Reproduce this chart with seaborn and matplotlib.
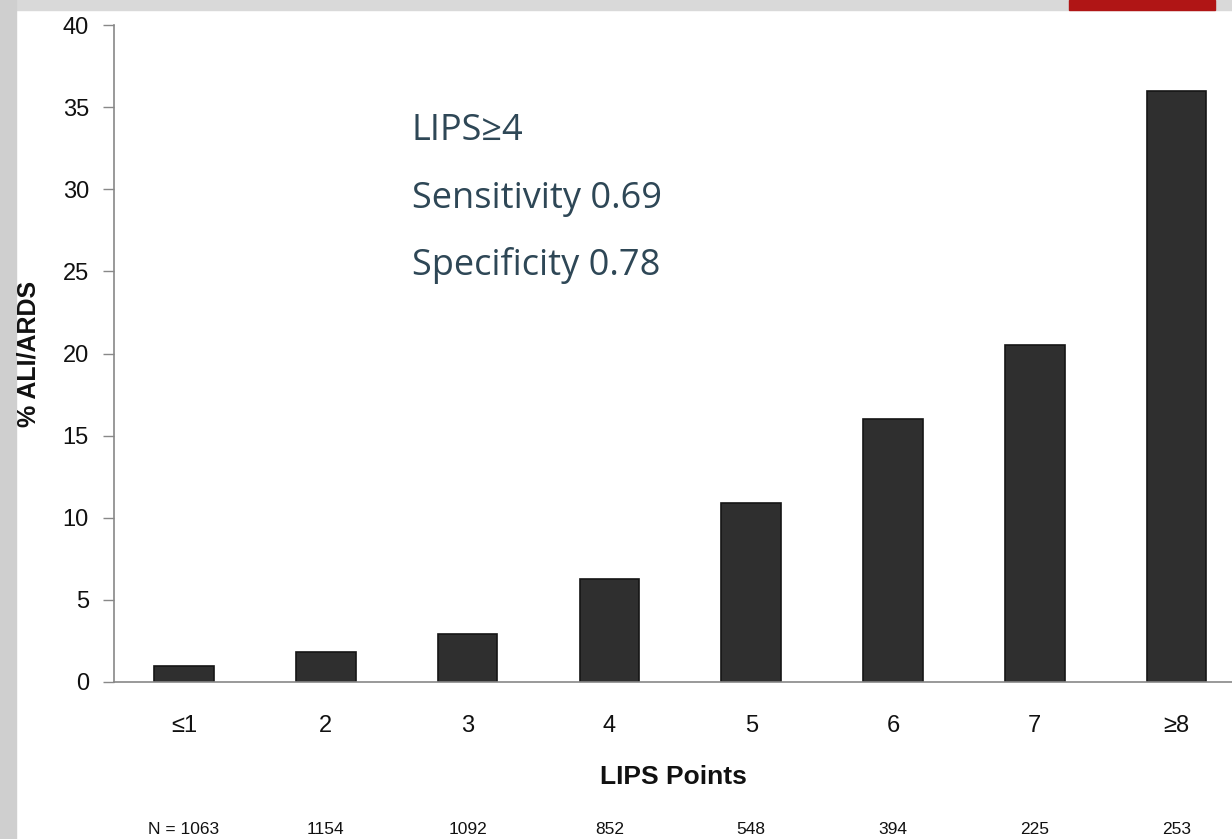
import seaborn as sns
import matplotlib.pyplot as plt
import matplotlib.transforms as mtransforms
from matplotlib.patches import Rectangle
import pandas as pd

# LIPS score categories and observed ALI/ARDS rate (%)
lips_points = ['≤1', '2', '3', '4', '5', '6', '7', '≥8']
pct_ali_ards = [1.0, 1.8, 2.9, 6.3, 10.9, 16.0, 20.5, 36.0]
n_patients = ['N = 1063', '1154', '1092', '852', '548', '394', '225', '253']
y_ticks = [0, 5, 10, 15, 20, 25, 30, 35, 40]


def lips_chart():
    """Bar chart of % ALI/ARDS by LIPS points."""
    df = pd.DataFrame({'points': lips_points, 'pct': pct_ali_ards})

    sns.set_style('white')
    plt.rcParams['font.family'] = ['Liberation Sans', 'DejaVu Sans']

    fig = plt.figure(figsize=(12.32, 8.39), dpi=100)
    fig.patch.set_facecolor('white')

    # grey slide frame and red tab at the top
    fig.add_artist(Rectangle((0, 1 - 10 / 839), 1, 10 / 839, transform=fig.transFigure,
                             color='#d9d9d9', zorder=0))
    fig.add_artist(Rectangle((0, 0), 16 / 1232, 1, transform=fig.transFigure,
                             color='#cfcfcf', zorder=0))
    fig.add_artist(Rectangle((1069 / 1232, 1 - 10 / 839), 146 / 1232, 10 / 839,
                             transform=fig.transFigure, color='#b01515', zorder=1))

    ax = fig.add_axes([114 / 1232, 1 - 682 / 839, 1 - 114 / 1232, (682 - 25) / 839])
    ax.set_facecolor('none')

    sns.barplot(data=df, x='points', y='pct', order=lips_points, color='#2f2f2f',
                edgecolor='#151515', linewidth=1.2, width=0.42, saturation=1, ax=ax)

    ax.set_xlim(-0.493, 7.39)
    ax.set_ylim(0, 40)
    ax.set_yticks(y_ticks)
    ax.tick_params(axis='y', length=8, width=1, color='#888888', labelsize=17,
                   pad=10, left=True, labelcolor='#111111')
    ax.tick_params(axis='x', length=0, labelsize=17, pad=24, labelcolor='#111111')

    for side in ['top', 'right']:
        ax.spines[side].set_visible(False)
    for side in ['left', 'bottom']:
        ax.spines[side].set_color('#888888')
        ax.spines[side].set_linewidth(1.2)

    ax.set_xlabel('LIPS Points', fontsize=19, fontweight='bold', labelpad=20,
                  color='#111111')
    ax.set_ylabel('% ALI/ARDS', fontsize=18, fontweight='bold', labelpad=16,
                  color='#111111')

    # patient counts under each category
    trans = mtransforms.blended_transform_factory(ax.transData, fig.transFigure)
    for i, n in enumerate(n_patients):
        ax.text(i, 1 - 830 / 839, n, transform=trans, ha='center', va='center',
                fontsize=12.5, color='#111111', clip_on=False)

    # annotation block
    note_color = '#2e4756'
    note_font = ['Open Sans', 'DejaVu Sans']
    ax.text(412 / 1232, 1 - 140 / 839, 'LIPS≥4', transform=fig.transFigure,
            fontsize=26, color=note_color, family=note_font, va='baseline')
    ax.text(412 / 1232, 1 - 208 / 839, 'Sensitivity 0.69', transform=fig.transFigure,
            fontsize=26, color=note_color, family=note_font, va='baseline')
    ax.text(412 / 1232, 1 - 275 / 839, 'Specificity 0.78', transform=fig.transFigure,
            fontsize=26, color=note_color, family=note_font, va='baseline')

    fig.savefig('out.png', dpi=100, facecolor=fig.get_facecolor())


def main():
    lips_chart()


if __name__ == "__main__":
    main()
